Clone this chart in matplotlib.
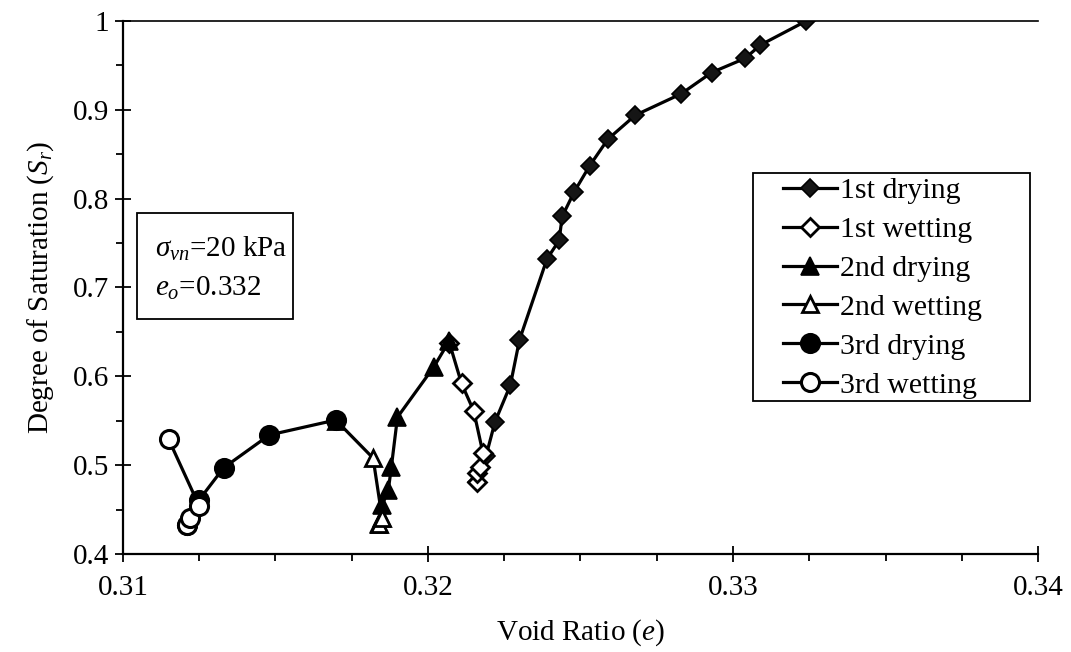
import matplotlib
matplotlib.use("Agg")
import matplotlib.pyplot as plt
from matplotlib.ticker import MultipleLocator
from matplotlib.patches import Rectangle

plt.rcParams['font.family'] = ['Liberation Serif', 'DejaVu Serif']
plt.rcParams['mathtext.fontset'] = 'custom'
plt.rcParams['mathtext.rm'] = 'Liberation Serif'
plt.rcParams['mathtext.it'] = 'Liberation Serif:italic'

# void ratio / degree of saturation for each drying-wetting stage
dry1_e = [0.3324, 0.3309, 0.3304, 0.3293, 0.3283, 0.3268, 0.3259, 0.3253, 0.3248,
          0.3244, 0.3243, 0.3239, 0.3230, 0.3227, 0.3222, 0.3219, 0.3216]
dry1_s = [1.000, 0.973, 0.958, 0.942, 0.918, 0.894, 0.867, 0.837, 0.808,
          0.780, 0.753, 0.732, 0.641, 0.590, 0.549, 0.510, 0.481]

wet1_e = [0.3216, 0.3216, 0.3217, 0.3218, 0.3215, 0.3211, 0.3207]
wet1_s = [0.481, 0.491, 0.498, 0.514, 0.561, 0.592, 0.638]

dry2_e = [0.3207, 0.3202, 0.3190, 0.3188, 0.3187, 0.3185, 0.3185, 0.3184]
dry2_s = [0.640, 0.611, 0.554, 0.498, 0.472, 0.455, 0.440, 0.434]

wet2_e = [0.3184, 0.3185, 0.3182, 0.3170]
wet2_s = [0.434, 0.440, 0.508, 0.550]

dry3_e = [0.3170, 0.3148, 0.3133, 0.3125, 0.3121]
dry3_s = [0.551, 0.534, 0.497, 0.461, 0.433]

wet3_e = [0.3121, 0.3122, 0.3125, 0.3115]
wet3_s = [0.433, 0.441, 0.454, 0.529]

fs = 21
fig = plt.figure(figsize=(10.71, 6.52), dpi=100)
ax = fig.add_axes([0.1148, 0.1503, 0.8544, 0.8175])

lw = 2.3
ax.plot(dry1_e, dry1_s, '-D', color='black', mfc='#151515', mec='black', ms=9, mew=1.2, lw=lw, label='1st drying')
ax.plot(wet1_e, wet1_s, '-D', color='black', mfc='white', mec='black', ms=9, mew=2, lw=lw, label='1st wetting')
ax.plot(dry2_e, dry2_s, '-^', color='black', mfc='black', mec='black', ms=13, mew=1.2, lw=lw, label='2nd drying')
ax.plot(wet2_e, wet2_s, '-^', color='black', mfc='white', mec='black', ms=12, mew=2, lw=lw, label='2nd wetting')
ax.plot(dry3_e, dry3_s, '-o', color='black', mfc='black', mec='black', ms=14, mew=1.2, lw=lw, label='3rd drying')
ax.plot(wet3_e, wet3_s, '-o', color='black', mfc='white', mec='black', ms=13, mew=2.2, lw=lw, label='3rd wetting')

ax.set_xlim(0.31, 0.34)
ax.set_ylim(0.4, 1.0)
ax.xaxis.set_minor_locator(MultipleLocator(0.0025))
ax.yaxis.set_minor_locator(MultipleLocator(0.05))
ax.set_xticks([0.31, 0.32, 0.33, 0.34])
ax.set_xticklabels(['0.31', '0.32', '0.33', '0.34'])
ax.set_yticks([0.4, 0.5, 0.6, 0.7, 0.8, 0.9, 1.0])
ax.set_yticklabels(['0.4', '0.5', '0.6', '0.7', '0.8', '0.9', '1'])

ax.spines['right'].set_visible(False)
for s in ['left', 'bottom']:
    ax.spines[s].set_linewidth(1.6)
ax.spines['top'].set_linewidth(1.2)
ax.tick_params(which='major', direction='inout', length=12, width=1.3, labelsize=fs, pad=4)
ax.tick_params(axis='x', which='major', pad=9)
ax.tick_params(which='minor', direction='out', length=5, width=1.3)
ax.tick_params(top=False, right=False, which='both')

ax.set_xlabel('Void Ratio ($\\mathit{e}$)', fontsize=fs, labelpad=12)
ax.set_ylabel('Degree of Saturation ($\\mathit{S_r}$)', fontsize=fs, labelpad=12)

# condition box
ax.add_patch(Rectangle((0.0153, 0.441), 0.170, 0.199, transform=ax.transAxes,
                       fc='white', ec='black', lw=1.3, zorder=5))
ax.text(0.035, 0.572, '$\\mathit{\\sigma_{vn}}$=20 kPa', transform=ax.transAxes,
        fontsize=fs, va='center', ha='left', zorder=6)
ax.text(0.035, 0.499, '$\\mathit{e_o}$=0.332', transform=ax.transAxes,
        fontsize=fs, va='center', ha='left', zorder=6)

# legend with a separately drawn frame
ax.add_patch(Rectangle((0.6885, 0.287), 0.3025, 0.4278, transform=ax.transAxes,
                       fc='white', ec='black', lw=1.3, zorder=5))
leg = ax.legend(loc='upper left', bbox_to_anchor=(0.7213, 0.7064), borderaxespad=0,
                fontsize=21.5, frameon=False, handlelength=1.8, handletextpad=0.1,
                labelspacing=0.4, borderpad=0)
leg.set_zorder(6)

fig.savefig('out.png', dpi=100)
